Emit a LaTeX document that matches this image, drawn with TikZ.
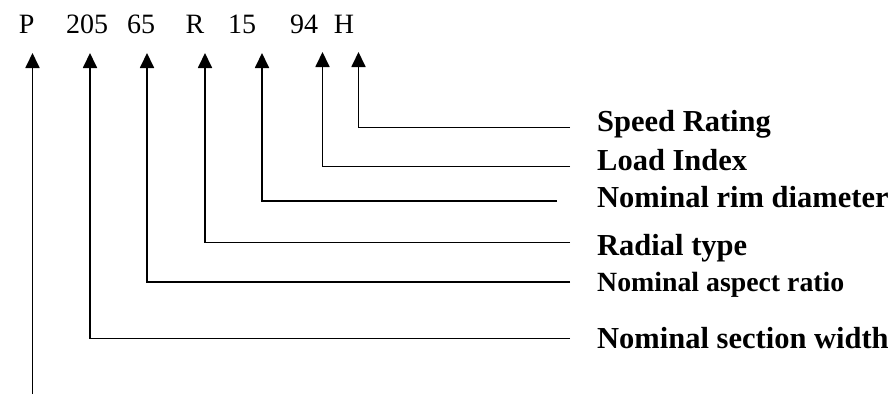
\documentclass[tikz,border=0pt]{standalone}
\usepackage{fontspec}
\setmainfont{Liberation Serif}
\usetikzlibrary{arrows.meta}
\newcommand{\codefont}{\fontsize{28}{32}\selectfont}
\newcommand{\descfont}{\fontsize{30.5}{36}\selectfont\bfseries}
\newcommand{\smalldescfont}{\fontsize{27.8}{32}\selectfont\bfseries}
\tikzset{every picture/.style={x=1pt,y=-1pt}}
\tikzset{code/.style={font=\codefont,inner sep=0pt,anchor=base}}
\tikzset{desc/.style={font=\descfont,inner sep=0pt,anchor=base west}}
\tikzset{lead/.style={line width=1.8pt,-{Triangle[length=15pt,width=14pt]}}}

\begin{document}
\begin{tikzpicture}
\useasboundingbox (0,0) rectangle (894,394);

% the code printed on the tyre
\node [code] (P) at (26.7,33) {P};
\node [code] (w) at (87,33) {205};
\node [code] (a) at (141,33) {65};
\node [code] (R) at (195,33) {R};
\node [code] (d) at (242,33) {15};
\node [code] (li) at (304,33) {94};
\node [code] (H) at (344,33) {H};

% arrow tips under the code
\coordinate (tP) at (32.5,53);
\coordinate (tw) at (90,53);
\coordinate (ta) at (147,53);
\coordinate (tR) at (205,53);
\coordinate (td) at (262,53);
\coordinate (tli) at (322.5,52);
\coordinate (tH) at (358.5,52);

% what each part means
\node [desc] (sr) at (597,131.5) {Speed Rating};
\node [desc] (ld) at (597,170.5) {Load Index};
\node [desc] (rim) at (597,207.5) {Nominal rim diameter};
\node [desc] (rad) at (597,255.7) {Radial type};
\node [desc,font=\smalldescfont] (asp) at (597,291.7) {Nominal aspect ratio};
\node [desc] (sec) at (597,348) {Nominal section width};

\coordinate (esr) at (570,127.5);
\coordinate (eld) at (570,166.5);
\coordinate (erim) at (557,201);
\coordinate (erad) at (570,242.5);
\coordinate (easp) at (570,282);
\coordinate (esec) at (570,338.5);
\coordinate (eP) at (32.5,394);

\draw [lead] (esr) -| (tH);
\draw [lead] (eld) -| (tli);
\draw [lead] (erim) -| (td);
\draw [lead] (erad) -| (tR);
\draw [lead] (easp) -| (ta);
\draw [lead] (esec) -| (tw);
\draw [lead] (eP) -- (tP);
\end{tikzpicture}
\end{document}
